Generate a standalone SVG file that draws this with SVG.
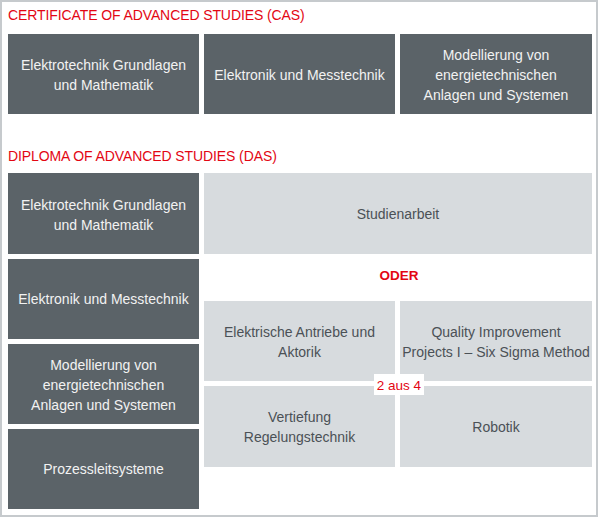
<svg xmlns="http://www.w3.org/2000/svg" width="600" height="518" viewBox="0 0 600 518">
<style>
.frame{fill:#ffffff;stroke:#c6cacd;stroke-width:2}
.dark{fill:#5b6368}
.light{fill:#d7dbde}
.title{font-family:"Liberation Sans",Arial,sans-serif;font-size:14px;fill:#e30613;letter-spacing:-0.1px}
.wt{font-family:"Liberation Sans",Arial,sans-serif;font-size:14px;fill:#f2f2f2;text-anchor:middle}
.dt{font-family:"Liberation Sans",Arial,sans-serif;font-size:14px;fill:#4b5156;text-anchor:middle}
.red{font-family:"Liberation Sans",Arial,sans-serif;font-size:13.5px;fill:#e30613;text-anchor:middle}
</style>
<rect class="frame" x="1" y="1" width="596" height="515"/>
<text class="title" x="8" y="20">CERTIFICATE OF ADVANCED STUDIES (CAS)</text>
<text class="title" x="8" y="161">DIPLOMA OF ADVANCED STUDIES (DAS)</text>
<g id="cas1"><rect class="dark" x="8" y="34" width="191" height="80"/><text class="wt" x="103.5" y="70">Elektrotechnik Grundlagen</text><text class="wt" x="103.5" y="90">und Mathematik</text></g>
<g id="cas2"><rect class="dark" x="204" y="34" width="191" height="80"/><text class="wt" x="299.5" y="80">Elektronik und Messtechnik</text></g>
<g id="cas3"><rect class="dark" x="400" y="34" width="192" height="80"/><text class="wt" x="496" y="60">Modellierung von</text><text class="wt" x="496" y="80">energietechnischen</text><text class="wt" x="496" y="100">Anlagen und Systemen</text></g>
<g id="das1"><rect class="dark" x="8" y="173" width="191" height="81"/><text class="wt" x="103.5" y="210">Elektrotechnik Grundlagen</text><text class="wt" x="103.5" y="230">und Mathematik</text></g>
<g id="das2"><rect class="dark" x="8" y="259" width="191" height="80"/><text class="wt" x="103.5" y="304">Elektronik und Messtechnik</text></g>
<g id="das3"><rect class="dark" x="8" y="344" width="191" height="80"/><text class="wt" x="103.5" y="370">Modellierung von</text><text class="wt" x="103.5" y="390">energietechnischen</text><text class="wt" x="103.5" y="410">Anlagen und Systemen</text></g>
<g id="das4"><rect class="dark" x="8" y="429" width="191" height="80"/><text class="wt" x="103.5" y="474">Prozessleitsysteme</text></g>
<g id="studienarbeit"><rect class="light" x="204" y="173" width="388" height="81"/><text class="dt" x="398" y="219">Studienarbeit</text></g>
<g id="oder"><text class="red" x="399" y="280" font-size="12.5" font-weight="bold">ODER</text></g>
<g id="m1"><rect class="light" x="204" y="301" width="191" height="80"/><text class="dt" x="299.5" y="337">Elektrische Antriebe und</text><text class="dt" x="299.5" y="357">Aktorik</text></g>
<g id="m2"><rect class="light" x="400" y="301" width="192" height="80"/><text class="dt" x="496" y="337">Quality Improvement</text><text class="dt" x="496" y="357" font-size="13.6">Projects I – Six Sigma Method</text></g>
<g id="m3"><rect class="light" x="204" y="386" width="191" height="81"/><text class="dt" x="299.5" y="422">Vertiefung</text><text class="dt" x="299.5" y="442">Regelungstechnik</text></g>
<g id="m4"><rect class="light" x="400" y="386" width="192" height="81"/><text class="dt" x="496" y="432">Robotik</text></g>
<g id="label"><rect x="374" y="374" width="50" height="21" fill="#ffffff"/><text class="red" x="399" y="390">2 aus 4</text></g>
<g id="connectors"></g>
</svg>
